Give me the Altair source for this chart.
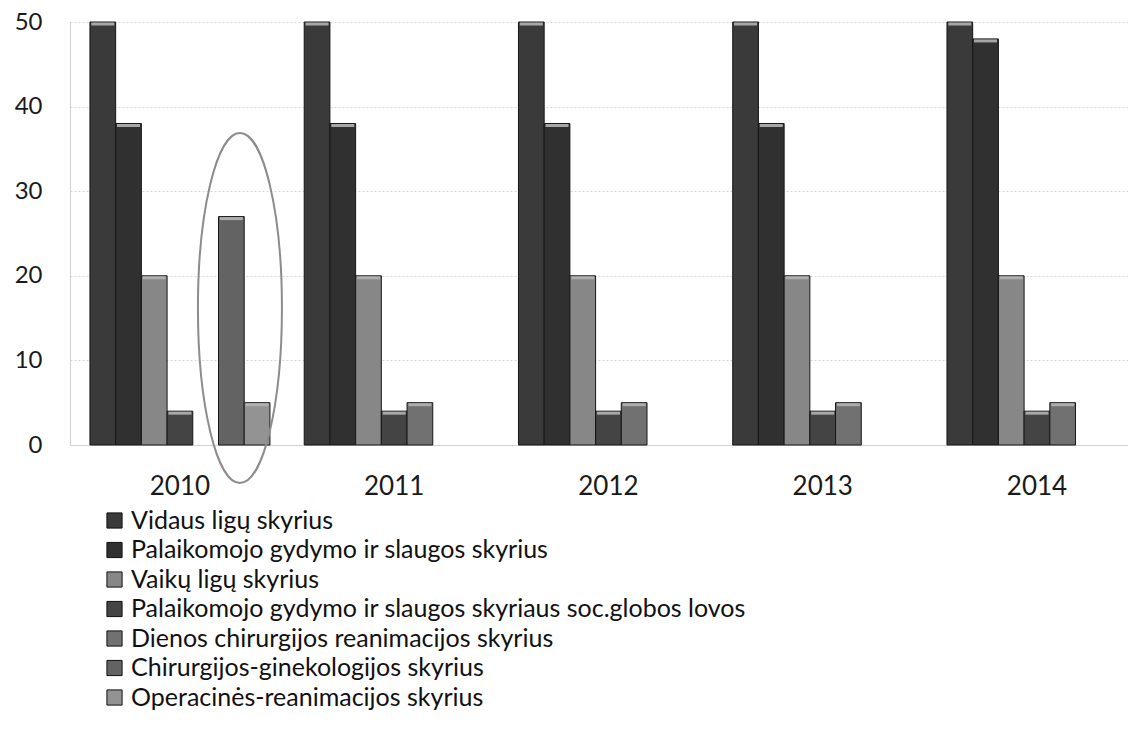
import altair as alt
import pandas as pd

years = ["2010", "2011", "2012", "2013", "2014"]
series = [
    "Vidaus ligų skyrius",
    "Palaikomojo gydymo ir slaugos skyrius",
    "Vaikų ligų skyrius",
    "Palaikomojo gydymo ir slaugos skyriaus soc.globos lovos",
    "Dienos chirurgijos reanimacijos skyrius",
    "Chirurgijos-ginekologijos skyrius",
    "Operacinės-reanimacijos skyrius",
]
vidaus = [50, 50, 50, 50, 50]
palaikomojo = [38, 38, 38, 38, 48]
vaiku = [20, 20, 20, 20, 20]
soc_globos = [4, 4, 4, 4, 4]
dienos = [0, 5, 5, 5, 5]
chir_gin = [27, 0, 0, 0, 0]
operacines = [5, 0, 0, 0, 0]
all_values = [vidaus, palaikomojo, vaiku, soc_globos, dienos, chir_gin, operacines]

colors = ["#3a3a3a", "#303030", "#878787", "#444444", "#717171", "#636363", "#939393"]

# highlighted (circled) area annotation
highlight_year = ["2010"]
highlight_value = [16.2]

rows = []
for s, vals in zip(series, all_values):
    for yr, v in zip(years, vals):
        if v > 0:
            rows.append({"year": yr, "series": s, "value": v})
df = pd.DataFrame(rows)

x = alt.X(
    "year:N",
    sort=years,
    title=None,
    scale=alt.Scale(paddingInner=0.16, paddingOuter=0.049, align=0.95),
    axis=alt.Axis(
        labelAngle=0, ticks=False, labelPadding=28, labelFontSize=26,
        labelColor="#1a1a1a", domainColor="#d0d0d0", grid=False,
    ),
)
xo = alt.XOffset(
    "series:N", sort=series,
    scale=alt.Scale(domain=series, paddingInner=0, paddingOuter=0),
)
y = alt.Y(
    "value:Q",
    title=None,
    scale=alt.Scale(domain=[0, 50], nice=False),
    axis=alt.Axis(
        values=[0, 10, 20, 30, 40, 50], ticks=False, labelPadding=28,
        labelFontSize=24, labelColor="#1a1a1a", domainColor="#d0d0d0",
        gridColor="#d6d6d6", gridDash=[2, 2], gridWidth=1,
    ),
)

bars = alt.Chart(df).mark_bar(stroke="#161616", strokeWidth=1).encode(
    x=x,
    xOffset=xo,
    y=y,
    color=alt.Color(
        "series:N",
        sort=series,
        scale=alt.Scale(domain=series, range=colors),
        legend=alt.Legend(
            title=None, orient="none", legendX=32, legendY=486,
            direction="vertical", symbolType="square", symbolSize=230,
            labelFontSize=25, labelOffset=4, rowPadding=3.5, labelLimit=0,
            symbolStrokeColor="#111111", symbolStrokeWidth=1,
            labelColor="#111111",
        ),
    ),
)

caps = alt.Chart(df).mark_tick(
    color="#b4b4b4", thickness=3, size=23, yOffset=2, opacity=0.9
).encode(x=x, xOffset=xo, y=y)

ellipse = alt.Chart(
    pd.DataFrame({"year": highlight_year, "value": highlight_value})
).mark_point(
    shape="M0,-1A0.24,1,0,1,1,0,1A0.24,1,0,1,1,0,-1Z",
    size=122500, filled=False, stroke="#8c8c8c", strokeWidth=2,
    xOffset=60, opacity=1,
).encode(x=alt.X("year:N", sort=years), y=alt.Y("value:Q"))

chart = alt.layer(bars, caps, ellipse).properties(
    width=1058,
    height=423,
    autosize=alt.AutoSizeParams(type="none"),
    padding={"left": 62, "top": 14, "right": 0, "bottom": 276},
).configure(font="Lato").configure_view(stroke=None)

chart.save("out.html", embed_options={"renderer": "svg", "actions": False})
